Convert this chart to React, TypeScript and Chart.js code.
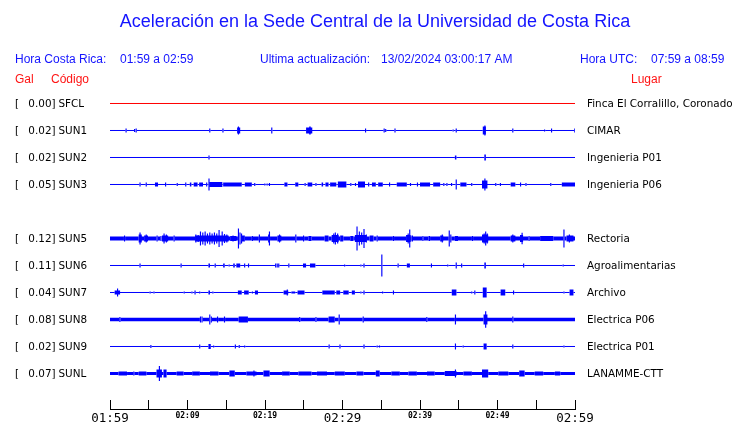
import React, { useEffect, useRef } from 'react';
import { Chart, registerables } from 'chart.js';

Chart.register(...registerables);

// ---------- texts ----------
const TITLE = 'Aceleración en la Sede Central de la Universidad de Costa Rica';
const HEADER_LOCAL = ['Hora Costa Rica:', '01:59 a 02:59'];
const HEADER_UPDATE = ['Ultima actualización:', '13/02/2024 03:00:17 AM'];
const HEADER_UTC = ['Hora UTC:', '07:59 a 08:59'];
const COL_HEADERS = ['Gal', 'Código', 'Lugar'];

// ---------- time axis (minutes after 01:59) ----------
const TIME_LABELS = ['01:59', '02:09', '02:19', '02:29', '02:39', '02:49', '02:59'];
const LABEL_EVERY = 10;
const TICK_STEP = 5;
const X_MIN = 0;
const X_MAX = 60;

// ---------- stations ----------
const CODES = ['SFCL', 'SUN1', 'SUN2', 'SUN3', 'SUN5', 'SUN6', 'SUN7', 'SUN8', 'SUN9', 'SUNL'];
const ROWS = [0, 1, 2, 3, 5, 6, 7, 8, 9, 10];
const PEAK_GAL = ['0.00', '0.02', '0.02', '0.05', '0.12', '0.11', '0.04', '0.08', '0.02', '0.07'];
const PLACES = [
  'Finca El Corralillo, Coronado',
  'CIMAR',
  'Ingenieria P01',
  'Ingenieria P06',
  'Rectoria',
  'Agroalimentarias',
  'Archivo',
  'Electrica P06',
  'Electrica P01',
  'LANAMME-CTT',
];
// background noise half-amplitude (1 row = 27 units)
const NOISE = [0.5, 0.5, 0.5, 0.5, 2, 0.5, 0.5, 1.75, 0.5, 1.5];
const AMP_PER_ROW = 27;
const MIN_SPAN = 0.15;

// bursts: [startMinute, endMinute, halfAmplitude]
const SFCL_BURSTS: number[][] = [];
const SUN1_BURSTS = [
  [2.0, 2.0, 2], [3.1, 3.1, 1.5], [3.3, 3.4, 2], [12.8, 12.8, 2], [14.5, 14.5, 2],
  [16.4, 16.8, 3], [16.5, 16.5, 4], [20.8, 20.8, 3], [25.3, 26.1, 3], [25.7, 25.9, 4],
  [32.9, 32.9, 2], [35.3, 35.3, 2], [35.5, 35.5, 1.5], [36.7, 36.8, 2], [44.2, 44.2, 1],
  [44.6, 44.7, 2], [48.1, 48.5, 4], [48.3, 48.3, 5], [51.9, 51.9, 2], [56.0, 56.0, 1],
  [56.9, 56.9, 2], [59.9, 59.9, 2],
];
const SUN2_BURSTS = [[12.7, 12.7, 2], [44.5, 44.7, 2], [48.3, 48.5, 3]];
const SUN3_BURSTS = [
  [3.8, 3.9, 2], [4.6, 4.6, 2], [5.8, 6.2, 2], [7.1, 7.1, 2], [8.6, 8.6, 1.5], [9.7, 9.7, 2],
  [10.3, 10.5, 2], [10.8, 11.3, 2], [11.5, 12.0, 2], [12.4, 12.5, 2], [12.7, 12.7, 6],
  [12.8, 14.5, 2.5], [14.6, 17.0, 2], [17.4, 18.3, 2], [18.6, 18.6, 1.5], [19.9, 19.9, 1],
  [20.2, 20.2, 1], [20.5, 20.5, 1.5], [22.5, 22.9, 2], [23.9, 24.3, 2], [25.1, 25.1, 1.5],
  [25.5, 26.1, 2], [26.5, 26.5, 1.5], [27.3, 27.5, 2], [27.8, 28.2, 2], [28.4, 29.2, 2],
  [29.4, 30.5, 3], [31.0, 31.0, 1.5], [31.6, 31.6, 1.5], [32.0, 32.9, 3], [33.3, 33.3, 2],
  [33.8, 34.3, 2], [34.6, 35.2, 2], [36.0, 36.0, 2], [37.0, 38.3, 2], [38.7, 38.7, 1.5],
  [39.6, 39.6, 2], [40.0, 41.3, 2], [41.7, 42.6, 2], [43.0, 43.0, 1.5], [43.4, 43.4, 1.5],
  [44.0, 44.0, 1.5], [44.6, 44.6, 5], [45.2, 46.0, 2], [46.6, 46.6, 1.5], [48.0, 48.7, 4],
  [48.3, 48.4, 6], [49.7, 49.7, 1.5], [50.3, 50.3, 1.5], [51.7, 52.3, 2], [52.9, 52.9, 2],
  [53.6, 53.6, 1.5], [56.8, 56.8, 1.5], [58.3, 60.0, 2],
];
const SUN5_BURSTS = [
  [1.8, 1.8, 3], [3.7, 4.1, 4], [3.8, 3.8, 6], [4.4, 4.9, 3], [4.6, 4.6, 4], [6.0, 6.0, 3],
  [6.5, 6.5, 2.5], [6.7, 7.5, 3], [6.9, 6.9, 5], [7.2, 7.2, 4], [8.2, 8.2, 3],
  [11.0, 15.3, 3], [11.0, 11.0, 4], [11.3, 11.3, 3.5], [11.6, 11.6, 7], [11.9, 11.9, 6],
  [12.2, 12.2, 7], [12.5, 12.5, 5], [12.8, 12.8, 6], [13.1, 13.1, 5], [13.4, 13.4, 6],
  [13.7, 13.7, 5], [14.0, 14.0, 8.5], [14.4, 14.4, 7], [14.7, 14.7, 4.5], [15.0, 15.0, 4],
  [15.5, 16.3, 2.5], [15.8, 15.8, 3], [16.5, 16.5, 10], [16.7, 16.7, 6], [16.9, 16.9, 5],
  [17.0, 17.4, 3], [18.3, 18.3, 2.5], [19.2, 19.2, 4], [20.4, 20.6, 4], [20.5, 20.5, 7],
  [21.6, 22.1, 3], [21.8, 21.8, 4], [23.9, 23.9, 4], [24.9, 24.9, 3], [25.6, 26.0, 2.5],
  [27.7, 28.2, 3], [28.6, 29.5, 3.5], [28.8, 28.8, 5], [29.0, 29.0, 6], [29.3, 29.3, 5],
  [29.7, 30.1, 3], [31.0, 31.4, 2.5], [31.6, 33.1, 3.5], [31.8, 31.8, 12], [32.1, 32.1, 7],
  [32.4, 32.4, 6], [32.7, 32.7, 9.5], [33.0, 33.0, 4], [33.5, 34.0, 3], [34.4, 34.4, 3],
  [36.5, 36.5, 2.5], [38.2, 38.8, 3.5], [38.4, 38.4, 5], [38.6, 38.6, 9], [38.9, 39.1, 3],
  [40.3, 40.3, 2.5], [41.1, 41.3, 2.5], [42.6, 43.0, 3], [42.8, 42.8, 4], [43.7, 43.7, 8],
  [43.9, 43.9, 4], [44.5, 44.9, 2.5], [46.7, 46.7, 2.5], [48.0, 48.8, 4], [48.2, 48.2, 5],
  [48.4, 48.4, 7], [48.6, 48.6, 5], [51.7, 52.3, 3], [51.9, 51.9, 4], [52.9, 53.3, 3.5],
  [53.1, 53.1, 5.7], [54.0, 54.0, 2.5], [55.5, 57.2, 2.5], [58.5, 58.5, 9], [58.9, 59.8, 3],
  [59.2, 59.2, 4],
];
const SUN6_BURSTS = [
  [3.8, 3.8, 2], [9.1, 9.1, 2], [12.7, 12.9, 2], [13.5, 13.5, 2], [14.6, 14.8, 2], [15.3, 15.3, 1],
  [15.9, 16.1, 2], [16.3, 16.8, 2], [17.3, 17.3, 2], [17.8, 17.8, 2], [21.3, 21.3, 2],
  [21.5, 21.5, 2], [21.7, 21.7, 2], [23.0, 23.0, 2], [24.9, 25.3, 2], [25.8, 26.5, 2],
  [30.2, 30.2, 1], [32.3, 32.3, 1], [32.7, 32.7, 2], [35.0, 35.0, 11], [37.1, 37.1, 2],
  [38.3, 38.7, 2], [41.4, 41.4, 2], [43.5, 43.5, 1], [44.6, 44.6, 3], [45.3, 45.3, 2],
  [48.3, 48.5, 3], [53.3, 53.3, 2], [58.4, 58.4, 1],
];
const SUN7_BURSTS = [
  [0.6, 1.3, 2], [0.9, 0.9, 4], [5.1, 5.1, 1], [5.6, 5.6, 1], [9.5, 9.5, 1], [10.5, 10.5, 1],
  [10.9, 10.9, 2], [11.5, 11.5, 1], [12.7, 12.9, 2], [13.2, 13.2, 1], [16.5, 17.0, 2],
  [17.3, 17.9, 2], [18.3, 18.3, 1], [18.7, 19.1, 2], [22.4, 23.0, 2], [22.8, 22.8, 3],
  [23.4, 23.9, 1], [24.2, 25.1, 2], [27.4, 29.0, 2], [29.2, 29.7, 2], [30.1, 30.8, 2],
  [31.2, 31.6, 2], [32.3, 32.3, 1], [32.7, 32.7, 2], [35.1, 35.1, 1], [36.5, 36.5, 2],
  [44.1, 44.7, 3], [46.6, 46.6, 1], [47.0, 47.0, 2], [48.1, 48.6, 5], [50.4, 51.0, 3],
  [52.0, 52.0, 2], [58.5, 58.5, 1], [59.3, 59.8, 3],
];
const SUN8_BURSTS = [
  [1.2, 1.2, 2.5], [11.6, 11.6, 3], [11.8, 11.8, 3], [12.8, 12.8, 5], [13.0, 13.0, 3],
  [13.8, 13.8, 3], [14.7, 14.7, 3], [16.6, 17.8, 3], [24.4, 24.4, 2.5], [26.5, 26.5, 2.5],
  [28.2, 29.0, 3], [29.5, 29.5, 5], [32.6, 32.6, 3], [40.8, 40.8, 2.5], [44.5, 44.5, 5],
  [48.2, 48.7, 5], [48.4, 48.4, 8.3], [51.9, 51.9, 3],
];
const SUN9_BURSTS = [
  [5.2, 5.2, 1.5], [11.5, 11.5, 2], [12.7, 13.0, 2.5], [13.3, 13.3, 1], [16.1, 16.1, 2],
  [16.6, 16.6, 1.5], [17.3, 17.3, 1], [28.2, 28.2, 2], [29.6, 29.6, 2], [32.7, 32.7, 2],
  [34.4, 34.4, 1], [34.7, 34.7, 1], [44.5, 44.5, 3], [45.5, 45.5, 1], [48.2, 48.6, 3],
  [51.9, 51.9, 2], [58.5, 58.5, 1],
];
const SUNL_BURSTS = [
  [1.1, 2.2, 2], [3.0, 3.0, 2], [3.7, 4.7, 2], [6.0, 6.7, 4], [6.3, 6.3, 7.5], [6.9, 7.3, 4],
  [8.6, 9.5, 2], [10.6, 11.6, 2], [12.9, 14.0, 2], [15.4, 16.1, 3], [17.6, 18.9, 2],
  [18.5, 18.5, 3], [19.8, 20.6, 3], [22.2, 23.2, 2], [24.3, 26.0, 2], [26.7, 28.0, 2],
  [29.0, 30.3, 2], [31.8, 32.7, 2], [34.3, 34.8, 3], [36.3, 37.4, 2], [38.5, 39.6, 2],
  [40.9, 41.9, 2], [43.2, 44.7, 2.5], [44.5, 44.5, 4], [45.6, 46.7, 2], [48.0, 48.8, 4],
  [50.1, 51.4, 2], [52.8, 53.5, 3], [54.8, 55.9, 2], [57.4, 58.1, 2],
];
const BURSTS = [
  SFCL_BURSTS, SUN1_BURSTS, SUN2_BURSTS, SUN3_BURSTS, SUN5_BURSTS,
  SUN6_BURSTS, SUN7_BURSTS, SUN8_BURSTS, SUN9_BURSTS, SUNL_BURSTS,
];
const TRACE_COLORS = ['#ff0000', '#0000ff', '#0000ff', '#0000ff', '#0000ff', '#0000ff', '#0000ff', '#0000ff', '#0000ff', '#0000ff'];

const BLUE = '#1414ff';
const RED = '#ff1414';

function buildPoints(i: number) {
  const row = ROWS[i];
  const noise = NOISE[i];
  const pts: { x: number; y: number; a: number }[] = [{ x: X_MIN, y: row, a: noise }];
  for (const [t0, t1, a] of BURSTS[i]) {
    pts.push({ x: t0, y: row, a: Math.max(a, noise) });
    pts.push({ x: Math.max(t1, t0 + MIN_SPAN), y: row, a: noise });
  }
  pts.push({ x: X_MAX, y: row, a: noise });
  return pts;
}

const textPlugin = {
  id: 'seismoTexts',
  afterDraw(chart: any) {
    const { ctx } = chart;
    const ys = chart.scales.y;
    ctx.save();
    ctx.textBaseline = 'middle';
    // title
    ctx.fillStyle = BLUE;
    ctx.font = '18px "Liberation Sans", Arial, sans-serif';
    ctx.textAlign = 'center';
    ctx.fillText(TITLE, 375, 22);
    // header
    ctx.font = '12px "Liberation Sans", Arial, sans-serif';
    ctx.textAlign = 'left';
    ctx.fillText(HEADER_LOCAL[0], 15, 60);
    ctx.fillText(HEADER_LOCAL[1], 120, 60);
    ctx.fillText(HEADER_UPDATE[0], 260, 60);
    ctx.fillText(HEADER_UPDATE[1], 381, 60);
    ctx.fillText(HEADER_UTC[0], 580, 60);
    ctx.fillText(HEADER_UTC[1], 651, 60);
    ctx.fillStyle = RED;
    ctx.fillText(COL_HEADERS[0], 15, 80);
    ctx.fillText(COL_HEADERS[1], 51, 80);
    ctx.fillText(COL_HEADERS[2], 631, 80);
    // station labels
    ctx.fillStyle = '#000';
    ctx.font = '10.4px "DejaVu Sans", sans-serif';
    CODES.forEach((code, i) => {
      const y = ys.getPixelForValue(ROWS[i]) + 0.5;
      ctx.textAlign = 'left';
      ctx.fillText('[', 15, y);
      ctx.textAlign = 'right';
      ctx.fillText(PEAK_GAL[i], 51.5, y);
      ctx.textAlign = 'left';
      ctx.fillText(']', 51.5, y);
      ctx.fillText(code, 58.5, y);
      ctx.fillText(PLACES[i], 587, y);
    });
    ctx.restore();
  },
};

export default function App() {
  const ref = useRef<HTMLCanvasElement | null>(null);
  useEffect(() => {
    if (!ref.current) return;
    const datasets = CODES.map((code, i) => {
      const pts = buildPoints(i);
      return {
        type: 'line' as const,
        label: code,
        data: pts,
        borderColor: TRACE_COLORS[i],
        backgroundColor: TRACE_COLORS[i],
        borderWidth: 1,
        pointRadius: 0,
        tension: 0,
        fill: false,
        borderCapStyle: 'butt' as const,
        segment: {
          borderWidth: (c: any) => {
            const a = pts[c.p0DataIndex].a;
            const s = c.chart.scales.y;
            const rowPx = Math.abs(s.getPixelForValue(1) - s.getPixelForValue(0));
            return Math.max(1, (2 * a * rowPx) / AMP_PER_ROW);
          },
        },
      };
    });
    const chart = new Chart(ref.current, {
      type: 'line',
      data: { datasets },
      plugins: [textPlugin],
      options: {
        animation: false,
        responsive: false,
        devicePixelRatio: 1,
        parsing: false as any,
        normalized: true,
        layout: { padding: { left: 110, right: 165, top: 90, bottom: 0 } },
        plugins: { legend: { display: false }, tooltip: { enabled: false }, title: { display: false } },
        scales: {
          x: {
            type: 'linear',
            position: 'bottom',
            min: X_MIN,
            max: X_MAX,
            grid: { drawOnChartArea: false, drawTicks: true, tickLength: -9, color: '#000', lineWidth: 1 },
            border: { display: true, color: '#000', width: 1 },
            ticks: {
              stepSize: TICK_STEP,
              autoSkip: false,
              maxRotation: 0,
              color: '#000',
              padding: 11,
              callback: (v: any) => (v % LABEL_EVERY === 0 ? TIME_LABELS[v / LABEL_EVERY] : ''),
              font: (c: any) =>
                c.tick && c.tick.value % 30 === 0
                  ? { family: '"DejaVu Sans Mono", monospace', size: 12.5 }
                  : { family: '"DejaVu Sans Mono", monospace', size: 8, weight: 'bold' },
            },
            afterFit: (s: any) => {
              s.height = 14;
            },
          },
          y: {
            type: 'linear',
            display: false,
            reverse: true,
            min: -0.5,
            max: 11.315,
          },
        },
      } as any,
    });
    return () => chart.destroy();
  }, []);
  return (
    <div style={{ position: 'absolute', left: 0, top: 0, width: 740, height: 423, background: '#fff' }}>
      <canvas ref={ref} width={740} height={423} style={{ display: 'block' }} />
    </div>
  );
}
